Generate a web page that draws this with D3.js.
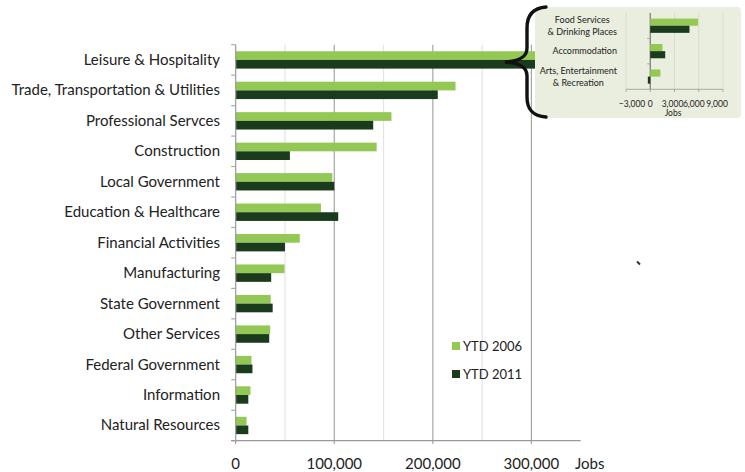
<!DOCTYPE html>
<html>
<head>
<meta charset="utf-8">
<script src="https://cdn.jsdelivr.net/npm/d3@7"></script>
<style>
  body { margin: 0; background: #fff; }
  svg { font-family: Lato, "Open Sans", sans-serif; }
</style>
</head>
<body>
<div id="draw"><svg width="745" height="472"></svg></div>
<script>
var W = 745, H = 472;

// main chart data
var sectors = ['Leisure & Hospitality', 'Trade, Transportation & Utilities', 'Professional Servces',
  'Construction', 'Local Government', 'Education & Healthcare', 'Financial Activities',
  'Manufacturing', 'State Government', 'Other Services', 'Federal Government',
  'Information', 'Natural Resources'];
var ytd2006 = [330000, 223000, 158000, 143000, 98000, 86500, 65000, 49500, 35500, 35000, 16000, 15000, 11000];
var ytd2011 = [322000, 205000, 139500, 55000, 100000, 104000, 50000, 36000, 37500, 34000, 17000, 12800, 12800];
var seriesNames = ['YTD 2006', 'YTD 2011'];
var xTicks = [0, 100000, 200000, 300000];
var xMinor = [50000, 150000, 250000];

// inset data (leisure & hospitality breakdown)
var subSectors = [['Food Services', '& Drinking Places'], ['Accommodation'], ['Arts, Entertainment', '& Recreation']];
var sub2006 = [5900, 1500, 1250];
var sub2011 = [4850, 1850, -300];
var subTicks = [-3000, 0, 3000, 6000, 9000];

var colors = ['#92c853', '#1b3b1d'];
var fmt = d3.format(',');

var svg = d3.select('#draw svg');

var x = d3.scaleLinear().domain([0, 350000]).range([235.7, 580.7]);
var y = d3.scaleBand().domain(sectors).range([44.7, 440.7]).paddingInner(0.43).paddingOuter(0.215);
var ys = d3.scaleBand().domain(seriesNames).range([0, y.bandwidth()]);

// gridlines
svg.append('g').selectAll('line').data(xMinor).join('line')
  .attr('x1', d => x(d)).attr('x2', d => x(d))
  .attr('y1', 44.7).attr('y2', 440.7)
  .attr('stroke', '#e4e4e4').attr('stroke-width', 1.2);
svg.append('g').selectAll('line').data(xTicks.slice(1)).join('line')
  .attr('x1', d => x(d)).attr('x2', d => x(d))
  .attr('y1', 44.7).attr('y2', 444)
  .attr('stroke', '#a6a6a6').attr('stroke-width', 1.2);

// bars
var rows = sectors.map(function(s, i) { return {s: s, v: [ytd2006[i], ytd2011[i]]}; });
var grp = svg.append('g').selectAll('g').data(rows).join('g')
  .attr('transform', d => 'translate(0,' + y(d.s) + ')');
grp.selectAll('rect').data(d => d.v.map((v, k) => ({k: k, v: v}))).join('rect')
  .attr('x', x(0))
  .attr('y', d => ys(seriesNames[d.k]))
  .attr('width', d => x(d.v) - x(0))
  .attr('height', ys.bandwidth())
  .attr('fill', d => colors[d.k]);

// left axis line + ticks between categories
svg.append('line').attr('x1', x(0)).attr('x2', x(0)).attr('y1', 44.7).attr('y2', 444)
  .attr('stroke', '#999').attr('stroke-width', 1.2);
var step = y.step();
svg.append('g').selectAll('line').data(d3.range(sectors.length + 1)).join('line')
  .attr('x1', x(0) - 4.5).attr('x2', x(0))
  .attr('y1', i => 44.7 + i * step).attr('y2', i => 44.7 + i * step)
  .attr('stroke', '#aaa').attr('stroke-width', 1.2);

// bottom axis
svg.append('line').attr('x1', x(0) - 4.5).attr('x2', 580.7).attr('y1', 440.7).attr('y2', 440.7)
  .attr('stroke', '#999').attr('stroke-width', 1.2);
svg.append('g').selectAll('text').data(xTicks).join('text')
  .attr('x', d => x(d)).attr('y', 469)
  .attr('text-anchor', 'middle').attr('font-size', 15).attr('fill', '#222')
  .text(d => fmt(d));
svg.append('text').attr('x', 575).attr('y', 469).attr('font-size', 15).attr('fill', '#222').text('Jobs');

// category labels
svg.append('g').selectAll('text').data(sectors).join('text')
  .attr('x', 220).attr('y', d => y(d) + y.bandwidth() / 2 + 5)
  .attr('text-anchor', 'end').attr('font-size', 15).attr('fill', '#222')
  .text(d => d);

// legend
var leg = svg.append('g').selectAll('g').data(seriesNames).join('g')
  .attr('transform', (d, i) => 'translate(452,' + (342 + i * 28) + ')');
leg.append('rect').attr('width', 8).attr('height', 8).attr('fill', (d, i) => colors[i]);
leg.append('text').attr('x', 11).attr('y', 8.5).attr('font-size', 13).attr('fill', '#222').text(d => d);

// stray mark
svg.append('line').attr('x1', 637).attr('y1', 261.5).attr('x2', 640).attr('y2', 264.5)
  .attr('stroke', '#333').attr('stroke-width', 2);

// inset panel
var inset = svg.append('g');
inset.append('rect').attr('x', 535).attr('y', 7).attr('width', 206).attr('height', 111)
  .attr('rx', 4).attr('fill', '#e9eedf');

var xi = d3.scaleLinear().domain([-3000, 9000]).range([626, 723]);
var yi = d3.scaleBand().domain(d3.range(subSectors.length)).range([13, 89.3]).paddingInner(0.44).paddingOuter(0.22);
var ysi = d3.scaleBand().domain(seriesNames).range([0, yi.bandwidth()]);

inset.append('g').selectAll('line').data(subTicks).join('line')
  .attr('x1', d => xi(d)).attr('x2', d => xi(d)).attr('y1', 13).attr('y2', 89.3)
  .attr('stroke', d => d === 0 ? '#777' : '#d3d8c8').attr('stroke-width', d => d === 0 ? 1.2 : 0.8);

var subRows = subSectors.map(function(s, i) { return {i: i, v: [sub2006[i], sub2011[i]]}; });
var ig = inset.append('g').selectAll('g').data(subRows).join('g')
  .attr('transform', d => 'translate(0,' + yi(d.i) + ')');
ig.selectAll('rect').data(d => d.v.map((v, k) => ({k: k, v: v}))).join('rect')
  .attr('x', d => xi(Math.min(0, d.v)))
  .attr('y', d => ysi(seriesNames[d.k]))
  .attr('width', d => Math.abs(xi(d.v) - xi(0)))
  .attr('height', ysi.bandwidth())
  .attr('fill', d => colors[d.k]);

inset.append('line').attr('x1', xi(-3000)).attr('x2', xi(9000)).attr('y1', 89.3).attr('y2', 89.3)
  .attr('stroke', '#999').attr('stroke-width', 0.8);
inset.append('g').selectAll('line').data(subTicks).join('line')
  .attr('x1', d => xi(d)).attr('x2', d => xi(d)).attr('y1', 89.3).attr('y2', 92)
  .attr('stroke', '#999').attr('stroke-width', 0.8);
var istep = yi.step();
inset.append('g').selectAll('line').data([1, 2]).join('line')
  .attr('x1', xi(0) - 3).attr('x2', xi(0))
  .attr('y1', i => 13 + i * istep).attr('y2', i => 13 + i * istep)
  .attr('stroke', '#999').attr('stroke-width', 0.8);

// labels sit squeezed together like in the original
var nudge = [6, 0, -2, -5, -6];
inset.append('g').selectAll('text').data(subTicks).join('text')
  .attr('x', (d, i) => xi(d) + nudge[i]).attr('y', 107)
  .attr('text-anchor', 'middle').attr('font-size', 8.5).attr('fill', '#222')
  .text(d => fmt(d));
inset.append('text').attr('x', 673).attr('y', 116).attr('text-anchor', 'middle')
  .attr('font-size', 8.5).attr('fill', '#222').text('Jobs');

// inset labels: lines centred on each other, block right-aligned
subSectors.forEach(function(lines, i) {
  var t = inset.append('text').attr('font-size', 9).attr('fill', '#222').attr('text-anchor', 'middle');
  var cy = yi(i) + yi.bandwidth() / 2;
  var y0 = cy - (lines.length - 1) * 6 + 3;
  lines.forEach(function(l, j) {
    t.append('tspan').attr('y', y0 + j * 12).text(l);
  });
  var wmax = d3.max(t.selectAll('tspan').nodes(), n => n.getComputedTextLength());
  t.selectAll('tspan').attr('x', 617 - wmax / 2);
});

// brace
svg.append('path')
  .attr('d', 'M546,7 C533,8 527,15 527,28 L527,48 C527,57 520,61 505,62 C520,63 527,67 527,76 L527,97 C527,110 533,116 546,117')
  .attr('fill', 'none').attr('stroke', '#111').attr('stroke-width', 3.4).attr('stroke-linecap', 'round');
</script>
</body>
</html>
